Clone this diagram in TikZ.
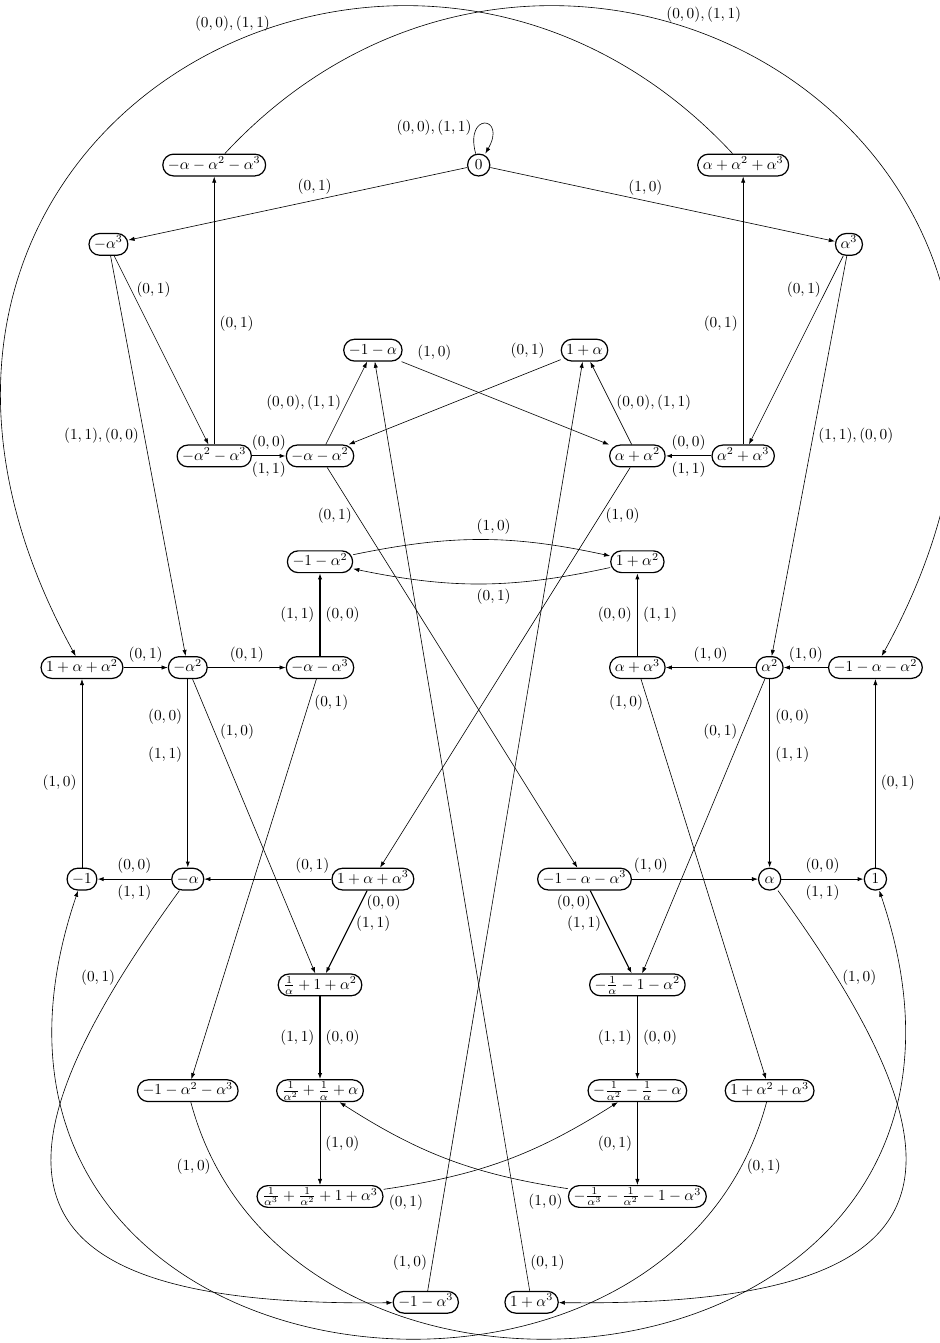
\documentclass[tikz,border=0pt]{standalone}
\usepackage{amsmath}
\usetikzlibrary{arrows.meta}

\begin{document}
\begin{tikzpicture}[x=1.215cm, y=1.215cm, >={Latex[length=4pt,width=2.8pt]},
                    elem/.style={draw, thick, rounded corners=7pt, text height=1.5ex, text depth=.25ex, minimum width=14.5pt},
                    dbl/.style={line width=0.7pt}]
    \useasboundingbox (-1.55,3.12) rectangle (16.22,-22.27);

    % states
    \node[elem] (zero) at (7.5,0) {$0$};
    \node[elem] (mA123) at (2.5,0) {$-\alpha-\alpha^2-\alpha^3$};
    \node[elem] (pA123) at (12.5,0) {$\alpha+\alpha^2+\alpha^3$};
    \node[elem] (mA3) at (0.5,-1.5) {$-\alpha^3$};
    \node[elem] (pA3) at (14.5,-1.5) {$\alpha^3$};
    \node[elem] (m1A) at (5.5,-3.5) {$-1-\alpha$};
    \node[elem] (p1A) at (9.5,-3.5) {$1+\alpha$};
    \node[elem] (mA23) at (2.5,-5.5) {$-\alpha^2-\alpha^3$};
    \node[elem] (mA12) at (4.5,-5.5) {$-\alpha-\alpha^2$};
    \node[elem] (pA12) at (10.5,-5.5) {$\alpha+\alpha^2$};
    \node[elem] (pA23) at (12.5,-5.5) {$\alpha^2+\alpha^3$};
    \node[elem] (m1A2) at (4.5,-7.5) {$-1-\alpha^2$};
    \node[elem] (p1A2) at (10.5,-7.5) {$1+\alpha^2$};
    \node[elem] (p1A12) at (0,-9.5) {$1+\alpha+\alpha^2$};
    \node[elem] (mA2) at (2,-9.5) {$-\alpha^2$};
    \node[elem] (mA13) at (4.5,-9.5) {$-\alpha-\alpha^3$};
    \node[elem] (pA13) at (10.5,-9.5) {$\alpha+\alpha^3$};
    \node[elem] (pA2) at (13,-9.5) {$\alpha^2$};
    \node[elem] (m1A12) at (15,-9.5) {$-1-\alpha-\alpha^2$};
    \node[elem] (mone) at (0,-13.5) {$-1$};
    \node[elem] (mA) at (2,-13.5) {$-\alpha$};
    \node[elem] (p1A13) at (5.5,-13.5) {$1+\alpha+\alpha^3$};
    \node[elem] (m1A13) at (9.5,-13.5) {$-1-\alpha-\alpha^3$};
    \node[elem] (pA) at (13,-13.5) {$\alpha$};
    \node[elem] (one) at (15,-13.5) {$1$};
    \node[elem] (pInvA) at (4.5,-15.5) {$\frac{1}{\alpha}+1+\alpha^2$};
    \node[elem] (mInvA) at (10.5,-15.5) {$-\frac{1}{\alpha}-1-\alpha^2$};
    \node[elem] (m1A23) at (2,-17.5) {$-1-\alpha^2-\alpha^3$};
    \node[elem] (pInvAA) at (4.5,-17.5) {$\frac{1}{\alpha^2}+\frac{1}{\alpha}+\alpha$};
    \node[elem] (mInvAA) at (10.5,-17.5) {$-\frac{1}{\alpha^2}-\frac{1}{\alpha}-\alpha$};
    \node[elem] (p1A23) at (13,-17.5) {$1+\alpha^2+\alpha^3$};
    \node[elem] (pInvAAA) at (4.5,-19.5) {$\frac{1}{\alpha^3}+\frac{1}{\alpha^2}+1+\alpha^3$};
    \node[elem] (mInvAAA) at (10.5,-19.5) {$-\frac{1}{\alpha^3}-\frac{1}{\alpha^2}-1-\alpha^3$};
    \node[elem] (m1A3) at (6.5,-21.5) {$-1-\alpha^3$};
    \node[elem] (p1A3) at (8.5,-21.5) {$1+\alpha^3$};

    % transitions
    \draw[->] (zero) to[out=105,in=60,min distance=10mm] node[left,pos=0.3] {$(0,0),(1,1)$} (zero);
    \draw[->] (zero) -- node[above,pos=0.45] {$(0,1)$} (mA3);
    \draw[->] (zero) -- node[above,pos=0.45] {$(1,0)$} (pA3);
    \draw[->] (mA3) -- node[right,pos=0.18] {$(0,1)$} (mA23);
    \draw[->] (mA3) -- node[left,pos=0.45] {$(1,1),(0,0)$} (mA2);
    \draw[->] (pA3) -- node[left,pos=0.18] {$(0,1)$} (pA23);
    \draw[->] (pA3) -- node[right,pos=0.45] {$(1,1),(0,0)$} (pA2);
    \draw[->] (mA23) -- node[right,pos=0.45] {$(0,1)$} (mA123);
    \draw[->] (pA23) -- node[left,pos=0.45] {$(0,1)$} (pA123);
    \draw[->,dbl] (mA23) -- node[above] {$(0,0)$} node[below] {$(1,1)$} (mA12);
    \draw[->,dbl] (pA23) -- node[above] {$(0,0)$} node[below] {$(1,1)$} (pA12);
    \draw[->] (mA12) -- node[left] {$(0,0),(1,1)$} (m1A);
    \draw[->] (pA12) -- node[right] {$(0,0),(1,1)$} (p1A);
    \draw[->] (m1A) -- node[above right,pos=0.05] {$(1,0)$} (pA12);
    \draw[->] (p1A) -- node[above left,pos=0.05] {$(0,1)$} (mA12);
    \draw[->] (mA12) -- node[left,pos=0.12] {$(0,1)$} (m1A13);
    \draw[->] (pA12) -- node[right,pos=0.12] {$(1,0)$} (p1A13);
    \draw[->] (m1A2) to[bend left=12] node[above,pos=0.55] {$(1,0)$} (p1A2);
    \draw[->] (p1A2) to[bend left=12] node[below,pos=0.45] {$(0,1)$} (m1A2);
    \draw[->,dbl] (mA13) -- node[left] {$(1,1)$} node[right] {$(0,0)$} (m1A2);
    \draw[->,dbl] (pA13) -- node[left] {$(0,0)$} node[right] {$(1,1)$} (p1A2);
    \draw[->] (p1A12) -- node[above] {$(0,1)$} (mA2);
    \draw[->] (mA2) -- node[above] {$(0,1)$} (mA13);
    \draw[->] (m1A12) -- node[above] {$(1,0)$} (pA2);
    \draw[->] (pA2) -- node[above] {$(1,0)$} (pA13);
    \draw[->,dbl] (mA2) -- node[left,pos=0.2] {$(0,0)$} node[left,pos=0.4] {$(1,1)$} (mA);
    \draw[->,dbl] (pA2) -- node[right,pos=0.2] {$(0,0)$} node[right,pos=0.4] {$(1,1)$} (pA);
    \draw[->] (mA2) -- node[right,pos=0.18] {$(1,0)$} (pInvA);
    \draw[->] (pA2) -- node[left,pos=0.18] {$(0,1)$} (mInvA);
    \draw[->] (mA13) -- node[right,pos=0.06] {$(0,1)$} (m1A23);
    \draw[->] (pA13) -- node[left,pos=0.06] {$(1,0)$} (p1A23);
    \draw[->] (mone) -- node[left,pos=0.45] {$(1,0)$} (p1A12);
    \draw[->] (one) -- node[right,pos=0.45] {$(0,1)$} (m1A12);
    \draw[->,dbl] (mA) -- node[above] {$(0,0)$} node[below] {$(1,1)$} (mone);
    \draw[->,dbl] (pA) -- node[above] {$(0,0)$} node[below] {$(1,1)$} (one);
    \draw[->] (p1A13) -- node[above,pos=0.15] {$(0,1)$} (mA);
    \draw[->] (m1A13) -- node[above,pos=0.15] {$(1,0)$} (pA);
    \draw[->,dbl] (p1A13) -- node[right,pos=0.15] {$(0,0)$} node[right,pos=0.4] {$(1,1)$} (pInvA);
    \draw[->,dbl] (m1A13) -- node[left,pos=0.15] {$(0,0)$} node[left,pos=0.4] {$(1,1)$} (mInvA);
    \draw[->,dbl] (pInvA) -- node[left] {$(1,1)$} node[right] {$(0,0)$} (pInvAA);
    \draw[->,dbl] (mInvA) -- node[left] {$(1,1)$} node[right] {$(0,0)$} (mInvAA);
    \draw[->] (pInvAA) -- node[right] {$(1,0)$} (pInvAAA);
    \draw[->] (mInvAA) -- node[left] {$(0,1)$} (mInvAAA);
    \draw[->] (pInvAAA) to[bend right=12] node[below right,pos=0] {$(0,1)$} (mInvAA);
    \draw[->] (mInvAAA) to[bend left=12] node[below left,pos=0] {$(1,0)$} (pInvAA);
    \draw[->] (m1A3) -- node[left,pos=0.03] {$(1,0)$} (p1A);
    \draw[->] (p1A3) -- node[right,pos=0.03] {$(0,1)$} (m1A);

    % long curves
    \draw[->] (mA123) .. controls (9,7) and (20.5,0.5) .. node[above=4pt,pos=0.42] {$(0,0),(1,1)$} (m1A12);
    \draw[->] (pA123) .. controls (6,7) and (-5.5,0.5) .. node[above=4pt,pos=0.44] {$(0,0),(1,1)$} (p1A12);
    \draw[->] (mA) .. controls (-2,-19) and (-1.7,-21.6) .. node[left,pos=0.11] {$(0,1)$} (m1A3);
    \draw[->] (pA) .. controls (17,-19) and (16.7,-21.6) .. node[right,pos=0.11] {$(1,0)$} (p1A3);
    \draw[->] (m1A23) .. controls (4,-25) and (18.3,-23.2) .. node[left,pos=0.06] {$(1,0)$} (one);
    \draw[->] (p1A23) .. controls (11,-25) and (-3.3,-23.2) .. node[right,pos=0.06] {$(0,1)$} (mone);
\end{tikzpicture}
\end{document}
